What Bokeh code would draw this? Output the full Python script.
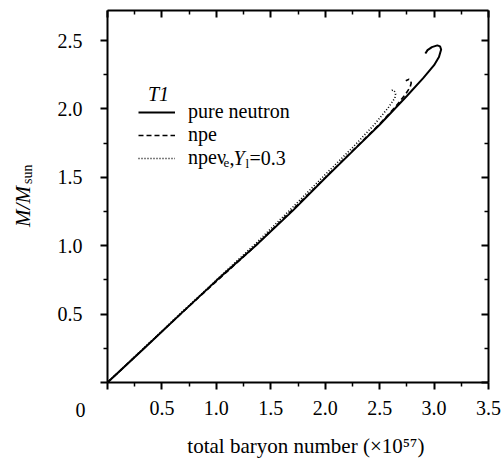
import math
from bokeh.plotting import figure
from bokeh.models import (Range1d, LinearAxis, FixedTicker, PrintfTickFormatter,
                          Label, Legend, LegendItem, Title)
from bokeh.embed import file_html
from bokeh.resources import INLINE

# ---------------- data ----------------
pure_N = [0.0, 0.35, 0.67, 1.0, 1.36, 1.7, 2.0, 2.25, 2.5, 2.75, 2.9, 3.0,
          3.045, 3.065, 3.055, 3.03, 2.98, 2.94, 2.92]
pure_M = [0.0, 0.26, 0.5, 0.745, 1.0, 1.255, 1.495, 1.69, 1.885, 2.095, 2.225, 2.32,
          2.38, 2.435, 2.458, 2.465, 2.452, 2.43, 2.405]

npe_N = [0.0, 0.67, 1.36, 2.0, 2.5, 2.65, 2.74, 2.78, 2.79, 2.785, 2.77, 2.74]
npe_M = [0.0, 0.5, 1.0, 1.497, 1.89, 2.02, 2.11, 2.16, 2.19, 2.205, 2.217, 2.207]

nu_N = [0.0, 0.67, 1.36, 1.7, 2.0, 2.26, 2.45, 2.58, 2.64, 2.646, 2.635, 2.62, 2.6]
nu_M = [0.0, 0.505, 1.015, 1.28, 1.52, 1.725, 1.885, 2.01, 2.08, 2.11, 2.13, 2.139, 2.13]

x_ticks = [0.0, 0.5, 1.0, 1.5, 2.0, 2.5, 3.0, 3.5]
x_tick_labels = ["", "0.5", "1.0", "1.5", "2.0", "2.5", "3.0", "3.5"]
x_minor = [0.25, 0.75, 1.25, 1.75, 2.25, 2.75, 3.25]
y_ticks = [0.0, 0.5, 1.0, 1.5, 2.0, 2.5]
y_tick_labels = ["", "0.5", "1.0", "1.5", "2.0", "2.5"]
y_minor = [0.25, 0.75, 1.25, 1.75, 2.25]
origin_label = "0"

legend_labels = ["pure neutron", "npe", "npe\u03bd"]
legend_title = "T1"
x_title = "total baryon number (\u00d710\u2075\u2077)"
y_title_main = "M/M"
y_title_sub = "sun"

# ---------------- layout ----------------
W, H = 504, 460
FL, FR, FT, FB = 107, 488, 10, 383
XMAX, YMAX = 3.5, 2.72
FONT = "Liberation Serif"


def sx(px):
    return (px - FL) / (FR - FL) * XMAX


def sy(py):
    return (FB - py) / (FB - FT) * YMAX


p = figure(width=W, height=H, x_range=Range1d(0, XMAX), y_range=Range1d(0, YMAX),
           output_backend="svg", toolbar_location=None,
           x_axis_type=None, y_axis_type=None,
           min_border_left=FL, min_border_right=W - FR,
           min_border_top=FT, min_border_bottom=H - FB)
p.outline_line_color = None
p.background_fill_color = "white"
p.border_fill_color = "white"
p.xgrid.visible = False
p.ygrid.visible = False


def style_axis(ax, inward):
    ax.axis_line_width = 2
    ax.axis_line_color = "black"
    ax.major_tick_line_width = 2
    ax.minor_tick_line_width = 1.5
    ax.major_tick_line_color = "black"
    ax.minor_tick_line_color = "black"
    if inward:
        ax.major_tick_in, ax.major_tick_out = 7, 0
        ax.minor_tick_in, ax.minor_tick_out = 4, 0
        ax.major_label_standoff = 0
    else:
        ax.major_tick_in, ax.major_tick_out = 0, 7
        ax.minor_tick_in, ax.minor_tick_out = 0, 4
    ax.major_label_text_font = FONT
    ax.major_label_text_font_size = "20px"
    ax.major_label_text_color = "black"
    ax.axis_label_text_font = FONT
    ax.axis_label_text_font_size = "21px"
    ax.axis_label_text_font_style = "normal"
    ax.axis_label_text_color = "black"


# the leading no-break spaces only nudge the centred title to the right
xb = LinearAxis(ticker=FixedTicker(ticks=x_ticks, minor_ticks=x_minor),
                formatter=PrintfTickFormatter(format="%.1f"),
                major_label_overrides={t: l for t, l in zip(x_ticks, x_tick_labels)},
                axis_label="\u00a0" * 3 + x_title)
style_axis(xb, False)
xb.major_label_standoff = 11
xb.axis_label_standoff = 16
p.add_layout(xb, "below")

yl = LinearAxis(ticker=FixedTicker(ticks=y_ticks, minor_ticks=y_minor),
                formatter=PrintfTickFormatter(format="%.1f"),
                major_label_overrides={t: l for t, l in zip(y_ticks, y_tick_labels)})
style_axis(yl, False)
yl.major_label_standoff = 18
p.add_layout(yl, "left")

xt = LinearAxis(ticker=FixedTicker(ticks=x_ticks, minor_ticks=x_minor),
                major_label_overrides={t: "" for t in x_ticks})
style_axis(xt, True)
p.add_layout(xt, "above")

yr = LinearAxis(ticker=FixedTicker(ticks=y_ticks, minor_ticks=y_minor),
                major_label_overrides={t: "" for t in y_ticks})
style_axis(yr, True)
p.add_layout(yr, "right")

# shared origin label "0" in the bottom-left corner, as a title of the bottom panel
p.add_layout(Title(text=origin_label, align="left", offset=-32, vertical_align="top",
                   standoff=-116, text_font=FONT, text_font_size="20px",
                   text_font_style="normal", text_color="black"), "below")

# ---------------- curves ----------------
r1 = p.line(pure_N, pure_M, line_color="black", line_width=2)
r2 = p.line(npe_N, npe_M, line_color="black", line_width=1.6, line_dash="5 3")
r3 = p.line(nu_N, nu_M, line_color="black", line_width=1.6, line_dash="1 2")

legend = Legend(items=[LegendItem(label=legend_labels[0], renderers=[r1]),
                       LegendItem(label=legend_labels[1], renderers=[r2]),
                       LegendItem(label=legend_labels[2], renderers=[r3])],
                location=(138 - FL, FB - 170),
                padding=0, margin=0, spacing=-2,
                label_height=22, glyph_height=22, glyph_width=37,
                label_standoff=13, border_line_color=None,
                background_fill_alpha=0,
                label_text_font=FONT, label_text_font_size="20px",
                label_text_color="black")
p.add_layout(legend, "center")


def lab(px, py, text, size="20px", style="normal", align="left",
        baseline="middle", angle=0.0, place="center"):
    p.add_layout(Label(x=sx(px), y=sy(py), text=text, text_font=FONT,
                       text_font_size=size, text_font_style=style,
                       text_align=align, text_baseline=baseline,
                       text_color="black", angle=angle), place)


# legend title and the sub/superscript parts of row 3
lab(158, 94, legend_title, style="italic", align="center")
row3 = 158
lab(223, row3 + 5, "e", size="13px")
lab(229, row3, ",")
lab(233, row3, "Y", style="italic")
lab(245, row3 + 5, "l", size="13px")
lab(249, row3, "=0.3")

# y axis title (placed in the left side panel)
lab(22, 227, y_title_main, size="21px", style="italic", angle=math.pi / 2, place="left")
lab(27, 184, y_title_sub, size="14px", angle=math.pi / 2, place="left")

open("out.html", "w").write(file_html(p, INLINE))
